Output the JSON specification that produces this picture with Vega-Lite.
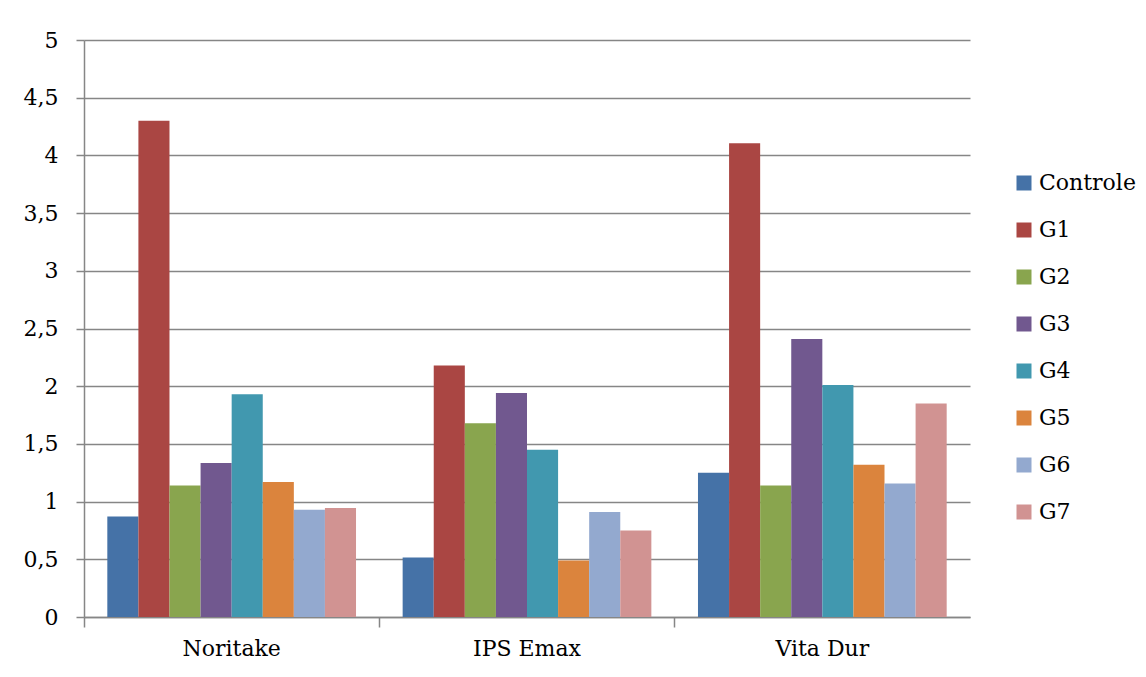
{
  "$schema": "https://vega.github.io/schema/vega-lite/v6.json",
  "autosize": {"type": "none"},
  "width": 886,
  "height": 577,
  "padding": {"left": 84, "top": 40, "right": 176, "bottom": 60},
  "background": "white",
  "config": {
    "view": {"stroke": null},
    "font": "DejaVu Serif",
    "axis": {"labelFont": "DejaVu Serif", "labelColor": "black", "titleFont": "DejaVu Serif"},
    "legend": {"labelFont": "DejaVu Serif", "labelColor": "black"}
  },
  "data": {
    "values": [
      {"material": "Noritake", "grupo": "Controle", "valor": 0.87},
      {"material": "Noritake", "grupo": "G1", "valor": 4.30},
      {"material": "Noritake", "grupo": "G2", "valor": 1.14},
      {"material": "Noritake", "grupo": "G3", "valor": 1.335},
      {"material": "Noritake", "grupo": "G4", "valor": 1.93},
      {"material": "Noritake", "grupo": "G5", "valor": 1.17},
      {"material": "Noritake", "grupo": "G6", "valor": 0.93},
      {"material": "Noritake", "grupo": "G7", "valor": 0.945},
      {"material": "IPS Emax", "grupo": "Controle", "valor": 0.515},
      {"material": "IPS Emax", "grupo": "G1", "valor": 2.18},
      {"material": "IPS Emax", "grupo": "G2", "valor": 1.68},
      {"material": "IPS Emax", "grupo": "G3", "valor": 1.94},
      {"material": "IPS Emax", "grupo": "G4", "valor": 1.45},
      {"material": "IPS Emax", "grupo": "G5", "valor": 0.49},
      {"material": "IPS Emax", "grupo": "G6", "valor": 0.91},
      {"material": "IPS Emax", "grupo": "G7", "valor": 0.75},
      {"material": "Vita Dur", "grupo": "Controle", "valor": 1.25},
      {"material": "Vita Dur", "grupo": "G1", "valor": 4.105},
      {"material": "Vita Dur", "grupo": "G2", "valor": 1.14},
      {"material": "Vita Dur", "grupo": "G3", "valor": 2.41},
      {"material": "Vita Dur", "grupo": "G4", "valor": 2.01},
      {"material": "Vita Dur", "grupo": "G5", "valor": 1.32},
      {"material": "Vita Dur", "grupo": "G6", "valor": 1.157},
      {"material": "Vita Dur", "grupo": "G7", "valor": 1.85}
    ]
  },
  "layer": [
    {
      "mark": {"type": "bar"},
      "encoding": {
        "x": {
          "field": "material", "type": "nominal", "sort": null,
          "scale": {"paddingInner": 0, "paddingOuter": 0},
          "axis": {
            "title": null, "labelAngle": 0, "labelFontSize": 22, "labelPadding": 21,
            "ticks": false, "domain": true, "domainColor": "#868686", "domainWidth": 1.5
          }
        },
        "xOffset": {
          "field": "grupo", "type": "nominal", "sort": null,
          "scale": {"paddingInner": 0, "paddingOuter": 0.75}
        },
        "y": {
          "field": "valor", "type": "quantitative",
          "scale": {"domain": [0, 5], "nice": false},
          "axis": {
            "title": null, "values": [0, 0.5, 1, 1.5, 2, 2.5, 3, 3.5, 4, 4.5, 5],
            "labelExpr": "replace(format(datum.value, '~g'), '.', ',')",
            "labelFontSize": 22, "labelPadding": 18,
            "grid": true, "gridColor": "#868686", "gridWidth": 1.5,
            "domain": true, "domainColor": "#868686", "domainWidth": 1.5,
            "ticks": true, "tickColor": "#868686", "tickWidth": 1.5, "tickSize": 8
          }
        },
        "color": {
          "field": "grupo", "type": "nominal", "sort": null,
          "scale": {
            "domain": ["Controle", "G1", "G2", "G3", "G4", "G5", "G6", "G7"],
            "range": ["#4572A7", "#AA4643", "#89A54E", "#71588F", "#4198AF", "#DB843D", "#93A9CF", "#D19392"]
          },
          "legend": {
            "title": null, "orient": "none", "legendX": 929, "legendY": 132,
            "symbolType": "square", "symbolSize": 225, "symbolStrokeWidth": 0,
            "labelFontSize": 22, "rowPadding": 25, "labelOffset": 4
          }
        }
      }
    },
    {
      "mark": {"type": "bar", "opacity": 0},
      "encoding": {
        "x": {
          "field": "material", "type": "nominal", "sort": null,
          "axis": {
            "title": null, "orient": "bottom", "labels": false, "domain": false,
            "bandPosition": 0, "ticks": true, "tickColor": "#868686", "tickWidth": 1.5, "tickSize": 10
          }
        },
        "xOffset": {"field": "grupo", "type": "nominal", "sort": null},
        "y": {"field": "valor", "type": "quantitative"}
      }
    }
  ],
  "resolve": {"axis": {"x": "independent"}}
}
